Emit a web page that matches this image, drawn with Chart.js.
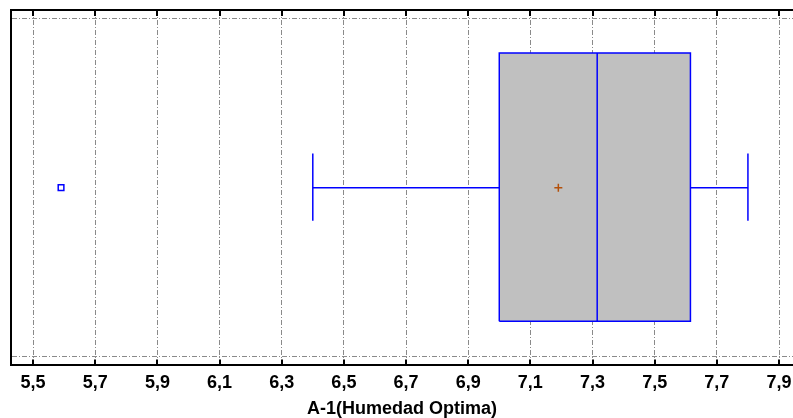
<!DOCTYPE html>
<html>
<head>
<meta charset="utf-8">
<script src="https://cdn.jsdelivr.net/npm/chart.js@4/dist/chart.umd.min.js"></script>
<style>
  html, body { margin: 0; padding: 0; background: #fff; }
  #wrap { width: 793px; height: 418px; }
</style>
</head>
<body>
<div id="wrap"><canvas id="boxChart"></canvas></div>
<script>
// valores
const xTicks = [5.5, 5.7, 5.9, 6.1, 6.3, 6.5, 6.7, 6.9, 7.1, 7.3, 7.5, 7.7, 7.9]
const boxStats = [6.4, 7.0, 7.315, 7.615, 7.8]   // min, Q1, mediana, Q3, max
const meanValue = [7.19]
const outliers = [5.59]
const axisTitle = 'A-1(Humedad Optima)'

// posicion vertical (eje y oculto 0..1)
const yGrid = [0.025, 0.975]
const boxLow = 0.124, boxHigh = 0.879, capLow = 0.407, capHigh = 0.596, mid = 0.5

const [wMin, q1, med, q3, wMax] = boxStats
const blue = '#0000ff'

const lineSet = (points) => ({
  data: points,
  showLine: true,
  borderColor: blue,
  borderWidth: 1.5,
  pointRadius: 0,
  fill: false,
  order: 1
})

const frame = {
  id: 'frame',
  afterDraw(chart) {
    const { ctx, chartArea, scales } = chart
    const x = scales.x
    ctx.save()
    ctx.strokeStyle = '#000'
    ctx.lineWidth = 2
    ctx.beginPath()
    ctx.moveTo(chartArea.left - 1, chartArea.top)
    ctx.lineTo(chartArea.right, chartArea.top)
    x.ticks.forEach(t => {
      const px = Math.round(x.getPixelForValue(t.value))
      ctx.moveTo(px, chartArea.top)
      ctx.lineTo(px, chartArea.top + 6)
      ctx.moveTo(px, chartArea.bottom)
      ctx.lineTo(px, chartArea.bottom - 6)
    })
    ctx.stroke()
    ctx.restore()
  }
}

const config = {
  type: 'scatter',
  data: {
    datasets: [
      {
        // caja
        data: [
          { x: q1, y: boxLow }, { x: q3, y: boxLow }, { x: q3, y: boxHigh },
          { x: q1, y: boxHigh }, { x: q1, y: boxLow }
        ],
        showLine: true,
        borderColor: blue,
        borderWidth: 1.5,
        backgroundColor: '#c0c0c0',
        pointRadius: 0,
        fill: 'shape',
        order: 5
      },
      lineSet([{ x: med, y: boxLow }, { x: med, y: boxHigh }]),
      lineSet([{ x: q1, y: mid }, { x: wMin, y: mid }, { x: wMin, y: capHigh }, { x: wMin, y: capLow }]),
      lineSet([{ x: q3, y: mid }, { x: wMax, y: mid }, { x: wMax, y: capHigh }, { x: wMax, y: capLow }]),
      {
        data: outliers.map(v => ({ x: v, y: mid })),
        pointStyle: 'rect',
        pointRadius: 4,
        pointBorderColor: blue,
        pointBackgroundColor: '#fff',
        pointBorderWidth: 1.5,
        order: 1
      },
      {
        data: meanValue.map(v => ({ x: v, y: mid })),
        pointStyle: 'cross',
        pointRadius: 4,
        pointBorderColor: '#b4500a',
        pointBorderWidth: 1.5,
        order: 0
      }
    ]
  },
  options: {
    responsive: true,
    maintainAspectRatio: false,
    animation: false,
    layout: { autoPadding: false, padding: { left: 11, top: 10, right: 0, bottom: 0 } },
    plugins: { legend: { display: false }, tooltip: { enabled: false } },
    scales: {
      x: {
        type: 'linear',
        min: 5.429,
        max: 7.945,
        afterBuildTicks: (scale) => { scale.ticks = xTicks.map(v => ({ value: v })) },
        afterFit: (scale) => { scale.paddingLeft = 0; scale.paddingRight = 0 },
        ticks: {
          color: '#000',
          padding: 7,
          maxRotation: 0,
          font: { family: 'Liberation Sans, Arial', size: 18, weight: 'bold' },
          callback: (v) => Number(v).toFixed(1).replace('.', ',')
        },
        grid: { color: '#8a8a8a', lineWidth: 1, drawTicks: false },
        border: { display: true, color: '#000', width: 2, dash: [5, 2, 1, 2] },
        title: {
          display: true,
          text: axisTitle,
          color: '#000',
          padding: { top: -1, bottom: 0 },
          font: { family: 'Liberation Sans, Arial', size: 18, weight: 'bold', lineHeight: 1 }
        }
      },
      y: {
        type: 'linear',
        min: 0,
        max: 1,
        afterBuildTicks: (scale) => { scale.ticks = yGrid.map(v => ({ value: v })) },
        ticks: { display: false },
        grid: { color: '#8a8a8a', lineWidth: 1, drawTicks: false },
        border: { display: true, color: '#000', width: 2, dash: [5, 2, 1, 2] }
      }
    }
  },
  plugins: [frame]
}

new Chart(document.getElementById('boxChart'), config)
</script>
</body>
</html>
